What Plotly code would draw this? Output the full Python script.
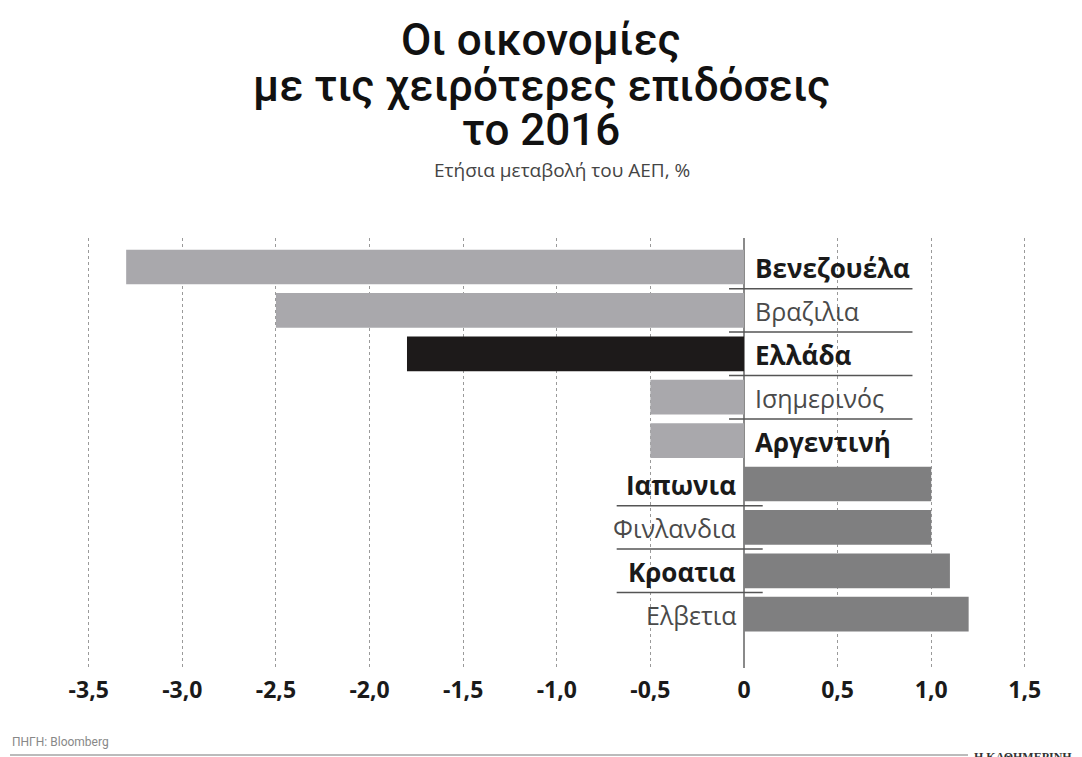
import plotly.graph_objects as go

# ---- data ----
countries = ["Βενεζουέλα", "Βραζιλια", "Ελλάδα", "Ισημερινός", "Αργεντινή",
             "Ιαπωνια", "Φινλανδια", "Κροατια", "Ελβετια"]
gdp_change = [-3.3, -2.5, -1.8, -0.5, -0.5, 1.0, 1.0, 1.1, 1.2]
bold_label = [True, False, True, False, True, True, False, True, False]
tick_vals = [-3.5, -3.0, -2.5, -2.0, -1.5, -1.0, -0.5, 0, 0.5, 1.0, 1.5]
tick_text = ["-3,5", "-3,0", "-2,5", "-2,0", "-1,5", "-1,0", "-0,5", "0", "0,5", "1,0", "1,5"]

title_lines = ["Οι οικονομίες", "με τις χειρότερες επιδόσεις", "το 2016"]
subtitle = "Ετήσια μεταβολή του ΑΕΠ, %"
source = "ΠΗΓΗ: Bloomberg"
brand = "Η ΚΑΘΗΜΕΡΙΝΗ"

# ---- styles ----
NEG = "#a9a8ac"
POS = "#7f7f80"
HIGHLIGHT = "#1d1a1a"
colors = []
for c, v in zip(countries, gdp_change):
    if c == "Ελλάδα":
        colors.append(HIGHLIGHT)
    elif v < 0:
        colors.append(NEG)
    else:
        colors.append(POS)

fig = go.Figure()
fig.add_trace(go.Bar(
    x=gdp_change, y=countries, orientation="h",
    marker=dict(color=colors, line=dict(width=0)),
    width=0.8, hoverinfo="x+y",
))

# page body has an 8px margin: figure drawn 8px right/down in the window
OFF = 8
W, H = 1082 - OFF, 757 - OFF
L, R, T, B = 70 - OFF, 16, 238 - OFF, 757 - 668
plot_w = W - L - R
plot_h = H - T - B

def px_x(sx):
    # screen x -> paper x
    return (sx - OFF - L) / plot_w

def px_y(sy):
    # screen y -> paper y
    return (H - B - (sy - OFF)) / plot_h

annotations = []
for txt, sy in zip(title_lines, [40, 86, 130]):
    annotations.append(dict(
        text=txt, xref="paper", yref="paper", x=px_x(541), y=px_y(sy),
        xanchor="center", yanchor="middle", showarrow=False,
        font=dict(family="Roboto", size=44, color="#111111", weight=500)))
annotations.append(dict(
    text=subtitle, xref="paper", yref="paper", x=px_x(562), y=px_y(170),
    xanchor="center", yanchor="middle", showarrow=False,
    font=dict(family="Open Sans", size=19, color="#444444")))

# country labels
for c, v, b in zip(countries, gdp_change, bold_label):
    annotations.append(dict(
        text=c, x=0, y=c, xref="x", yref="y",
        xanchor="left" if v < 0 else "right",
        xshift=9 if v < 0 else -6, yshift=-1,
        showarrow=False,
        font=dict(family="Open Sans", size=26 if b else 25,
                  color="#1a1a1a" if b else "#4a4a4a",
                  weight=700 if b else 400)))

annotations.append(dict(
    text=source, xref="paper", yref="paper", x=px_x(10), y=px_y(742),
    xanchor="left", yanchor="middle", showarrow=False,
    font=dict(family="Roboto", size=12, color="#888888")))
annotations.append(dict(
    text=brand, xref="paper", yref="paper", x=px_x(972), y=px_y(757),
    xanchor="left", yanchor="middle", showarrow=False,
    font=dict(family="Liberation Serif", size=12, color="#333333", weight=700)))

shapes = []
# separator lines between labels
for i in range(len(countries) - 1):
    v1, v2 = gdp_change[i], gdp_change[i + 1]
    if v1 < 0 and v2 < 0:
        x0, x1 = -0.08, 0.90
    elif v1 > 0 and v2 > 0:
        x0, x1 = -0.68, 0.10
    else:
        continue
    shapes.append(dict(type="line", xref="x", yref="y", x0=x0, x1=x1,
                       y0=i + 0.5, y1=i + 0.5,
                       line=dict(color="#555555", width=1.5), layer="above"))
# bottom rule
shapes.append(dict(type="line", xref="paper", yref="paper",
                   x0=px_x(10), x1=px_x(968), y0=px_y(755), y1=px_y(755),
                   line=dict(color="#bbbbbb", width=2)))

fig.update_layout(
    width=W, height=H,
    margin=dict(l=L, r=R, t=T, b=B),
    paper_bgcolor="white", plot_bgcolor="white",
    showlegend=False,
    annotations=annotations,
    shapes=shapes,
    xaxis=dict(
        range=[-3.6, 1.72],
        tickvals=tick_vals, ticktext=tick_text,
        showgrid=True, gridcolor="#9a9a9a", gridwidth=1, griddash="dot",
        zeroline=True, zerolinecolor="#8a8a8a", zerolinewidth=1.5,
        showline=False, ticks="", ticklabelstandoff=6,
        tickfont=dict(family="Open Sans", size=23, color="#1a1a1a", weight=700),
        fixedrange=True,
    ),
    yaxis=dict(
        type="category",
        range=[9.24, -0.668],
        showticklabels=False, showgrid=False, zeroline=False, showline=False,
        ticks="",
    ),
)

fig.write_html("out.html")
